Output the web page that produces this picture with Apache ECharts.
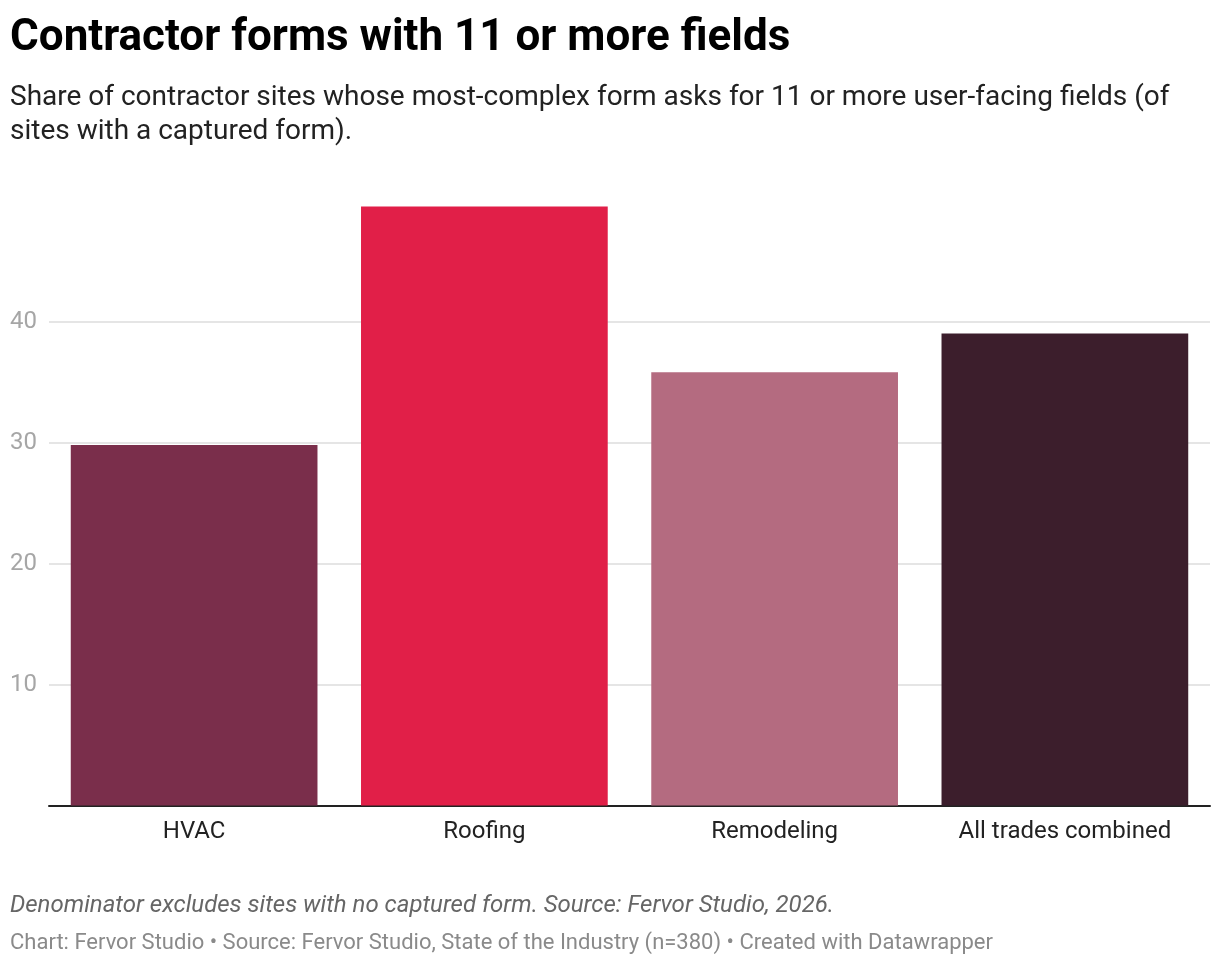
<!DOCTYPE html>
<html>
<head>
<meta charset="utf-8">
<title>Contractor forms with 11 or more fields</title>
<script src="https://cdn.jsdelivr.net/npm/echarts@6/dist/echarts.min.js"></script>
<style>
  html, body { margin: 0; padding: 0; background: #fff; }
  #chart { width: 1220px; height: 964px; }
</style>
</head>
<body>
<div id="chart"></div>
<script>
// data
const categories = ['HVAC', 'Roofing', 'Remodeling', 'All trades combined'];
const shareValues = [29.8, 49.5, 35.8, 39.0];
const barColors = ['#7a2e4b', '#e11f48', '#b46b80', '#3c1e2c'];
const yTicks = [0, 10, 20, 30, 40, 50];

const font = 'Roboto, "Noto Sans", sans-serif';

const chart = echarts.init(document.getElementById('chart'), null, { renderer: 'canvas' });

const option = {
    backgroundColor: '#fff',
    animation: false,
    title: [
        {
            text: 'Contractor forms with 11 or more fields',
            left: 10, top: 17, padding: 0,
            textStyle: { fontFamily: font, fontSize: 44, fontWeight: 'bold', color: '#000' }
        },
        {
            text: 'Share of contractor sites whose most-complex form asks for 11 or more user-facing fields (of\nsites with a captured form).',
            left: 10, top: 81, padding: 0,
            textStyle: { fontFamily: font, fontSize: 28, fontWeight: 'normal', color: '#222', lineHeight: 34 }
        },
        {
            text: 'Denominator excludes sites with no captured form. Source: Fervor Studio, 2026.',
            left: 10, top: 894, padding: 0,
            textStyle: { fontFamily: font, fontSize: 24, fontStyle: 'italic', fontWeight: 'normal', color: '#666' }
        },
        {
            text: 'Chart: Fervor Studio • Source: Fervor Studio, State of the Industry (n=380) • Created with Datawrapper',
            left: 10, top: 932, padding: 0,
            textStyle: { fontFamily: font, fontSize: 22, fontWeight: 'normal', color: '#8a8a8a' }
        }
    ],
    grid: {
        left: 49,
        right: 10,
        top: 200.5,
        bottom: 158.5,
        containLabel: false
    },
    xAxis: {
        type: 'category',
        data: categories,
        axisTick: { show: false },
        axisLine: { show: true, lineStyle: { color: '#222', width: 2 } },
        axisLabel: {
            margin: 14,
            fontFamily: font,
            fontSize: 24,
            color: '#222'
        }
    },
    yAxis: {
        type: 'value',
        min: yTicks[0],
        max: yTicks[yTicks.length - 1],
        interval: 10,
        axisLine: { show: false },
        axisTick: { show: false },
        axisLabel: {
            showMinLabel: false,
            showMaxLabel: false,
            margin: 12,
            fontFamily: font,
            fontSize: 24,
            color: '#a6a6a6'
        },
        splitLine: {
            show: true,
            showMinLine: false,
            showMaxLine: false,
            lineStyle: { color: '#e5e5e5', width: 2 }
        }
    },
    series: [{
        name: 'Share',
        type: 'bar',
        barCategoryGap: '15%',
        data: shareValues.map((v, i) => ({ value: v, itemStyle: { color: barColors[i] } })),
        label: { show: false }
    }]
};

chart.setOption(option);
</script>
</body>
</html>
